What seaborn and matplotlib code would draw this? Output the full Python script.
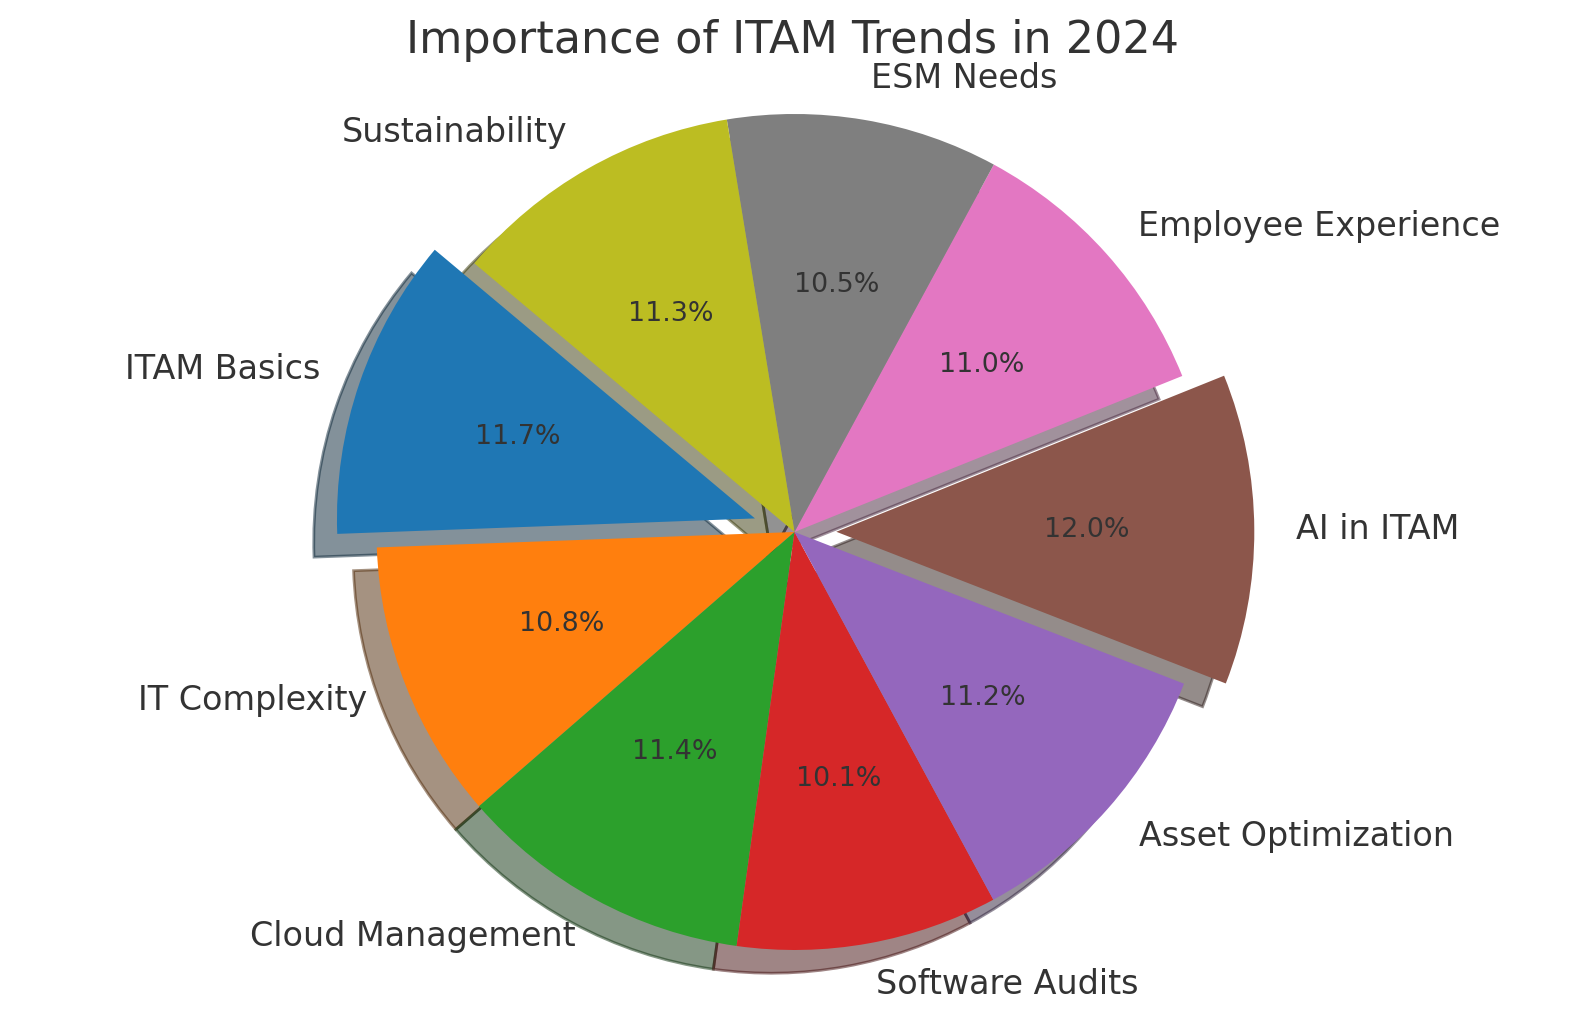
import seaborn as sns
import matplotlib.pyplot as plt

labels = ['ITAM Basics', 'IT Complexity', 'Cloud Management', 'Software Audits',
          'Asset Optimization', 'AI in ITAM', 'Employee Experience', 'ESM Needs',
          'Sustainability']
values = [11.7, 10.8, 11.4, 10.1, 11.2, 12.0, 11.0, 10.5, 11.3]
explode = [0.1, 0, 0, 0, 0, 0.1, 0, 0, 0]

sns.set_style('white')
colors = sns.color_palette('tab10', len(values))

fig = plt.figure(figsize=(7.945, 5.105), dpi=200)
ax = fig.add_axes([0, -0.0328, 1, 1.0235])
wedges, texts, autotexts = ax.pie(values, labels=labels, explode=explode, colors=colors,
                                  autopct='%1.1f%%', shadow=True, startangle=140,
                                  wedgeprops={'linewidth': 1, 'edgecolor': 'none'},
                                  textprops={'fontsize': 12, 'color': '.2'})
for t in autotexts:
    t.set_fontsize(9.7)
half_w = 1589 / 2 / (1021 * 1.0235 / 2.5)
ax.set_xlim(-half_w, half_w)
ax.set_ylim(-1.25, 1.25)
ax.set_aspect('auto')
fig.text(0.499, 0.960, 'Importance of ITAM Trends in 2024', ha='center', va='center',
         fontsize=16, color='.2')
plt.savefig('out.png', dpi=200)
